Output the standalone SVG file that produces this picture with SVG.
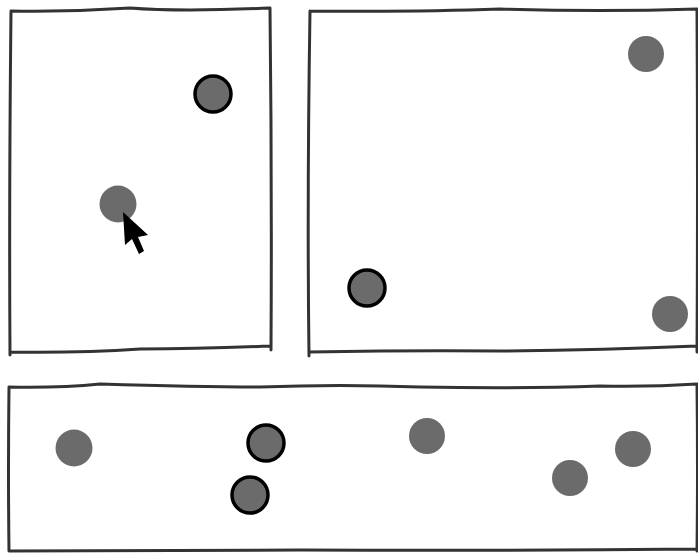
<svg xmlns="http://www.w3.org/2000/svg" width="698" height="554" viewBox="0 0 698 554">
<style>
.panel{fill:none;stroke:#333;stroke-width:3;stroke-linecap:round;stroke-linejoin:round}
.dot{fill:#6b6b6b}
.sel{fill:#6b6b6b;stroke:#000;stroke-width:3.5}
</style>
<rect width="698" height="554" fill="#fff"/>
<g id="panel-top-left">
<path class="panel" d="M11,11 Q70,12 130,8 Q180,12 270,8 M270,8 Q272,180 271,350 M271,346 Q200,349 140,349 Q80,353 10,352 M10,355 Q9,200 11,11"/>
<circle class="sel" cx="213" cy="94" r="18"/>
<circle class="dot" cx="118" cy="204" r="18.5"/>
</g>
<g id="panel-top-right">
<path class="panel" d="M310,11 Q420,12 500,9 Q600,12 697,9 M697,9 Q698,180 697,352 M697,346 Q600,350 500,351 Q420,350 309,352 M309,356 Q307,200 310,11"/>
<circle class="dot" cx="646" cy="54" r="18"/>
<circle class="sel" cx="367" cy="288" r="18"/>
<circle class="dot" cx="670" cy="314" r="18"/>
</g>
<g id="panel-bottom">
<path class="panel" d="M9,387 Q60,388 100,384 Q200,387 260,387 Q340,384 420,387 Q520,389 600,386 Q650,387 697,384 M697,384 Q698,470 697,551 M697,549 Q500,551 300,550 Q150,551 9,551 M9,551 Q8,470 9,387"/>
<circle class="dot" cx="74" cy="448" r="18.5"/>
<circle class="sel" cx="266" cy="443" r="18"/>
<circle class="sel" cx="250" cy="495" r="18"/>
<circle class="dot" cx="427" cy="436" r="18"/>
<circle class="dot" cx="570" cy="478" r="18"/>
<circle class="dot" cx="633" cy="449" r="18"/>
</g>
<g id="cursor">
<path d="M123,212 L125,245 L132,239 L139,254 L144,251 L138,237 L148,235 Z" fill="#000"/>
</g>
</svg>
